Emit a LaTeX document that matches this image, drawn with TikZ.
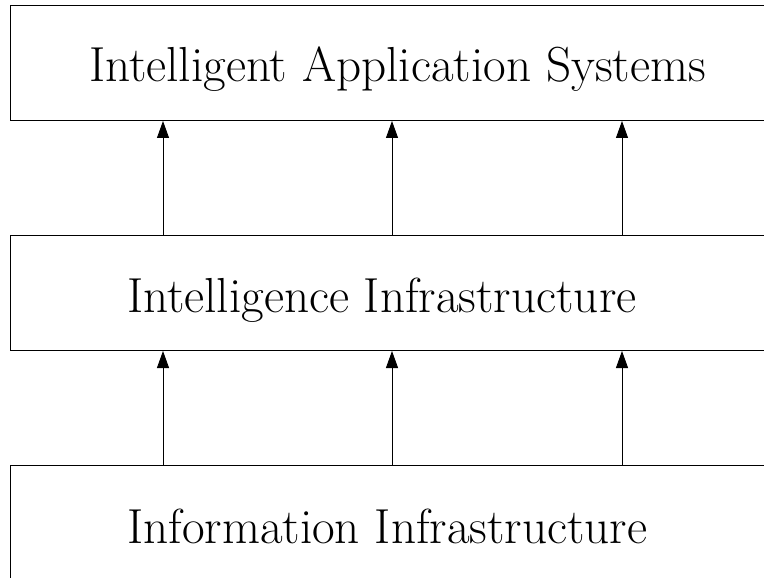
\documentclass[tikz,border=0pt]{standalone}
\usetikzlibrary{arrows.meta}
\begin{document}
\begin{tikzpicture}[x=1pt,y=-1pt,
  layer/.style={draw,line width=1pt,rectangle,minimum width=770pt,minimum height=115pt,inner sep=0pt,anchor=north west},
  lbl/.style={font=\fontsize{49.2}{60}\selectfont,inner sep=0pt,anchor=base west},
  arr/.style={line width=0.9pt,-{Triangle[length=17pt,width=12pt]}}]
\useasboundingbox (0,0) rectangle (764,578);
\clip (0,0) rectangle (764,578);
\node[layer] (top) at (10,5) {};
\node[layer] (mid) at (10,235) {};
\node[layer] (bot) at (10,465) {};
\node[lbl] (ttop) at (89,82) {Intelligent Application Systems};
\node[lbl] (tmid) at (127,312) {Intelligence Infrastructure};
\node[lbl] (tbot) at (127,543) {Information Infrastructure};
\foreach \xx in {163,392,622}{
  \draw[arr] (mid.north -| \xx,0) -- (top.south -| \xx,0);
  \draw[arr] (bot.north -| \xx,0) -- (mid.south -| \xx,0);
}
\end{tikzpicture}
\end{document}
